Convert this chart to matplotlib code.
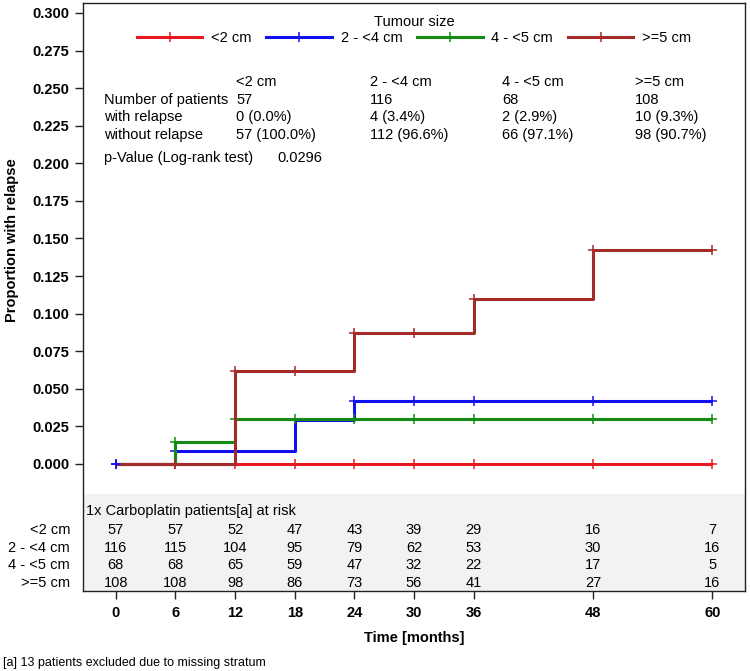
import numpy as np
import matplotlib
matplotlib.use("Agg")
import matplotlib.pyplot as plt
from matplotlib.lines import Line2D
from matplotlib.patches import Rectangle

plt.rcParams['font.family'] = ['Liberation Sans', 'DejaVu Sans']

# ---------------- data ----------------
groups = ["<2 cm", "2 - <4 cm", "4 - <5 cm", ">=5 cm"]
colors = ["#E8191E", "#1010F0", "#158A15", "#A52A2A"]

grid = [0, 6, 12, 18, 24, 30, 36, 48, 60]
prop_lt2 = [0, 0, 0, 0, 0, 0, 0, 0, 0]
prop_2to4 = [0, 0.0088, 0.0088, 0.0293, 0.0421, 0.0421, 0.0421, 0.0421, 0.0421]
prop_4to5 = [0, 0.0149, 0.0298, 0.0298, 0.0298, 0.0298, 0.0298, 0.0298, 0.0298]
prop_ge5 = [0, 0, 0.0616, 0.0616, 0.0872, 0.0872, 0.1094, 0.1423, 0.1423]
props = [prop_lt2, prop_2to4, prop_4to5, prop_ge5]

cens_lt2 = [6, 12, 18, 24, 30, 36, 48, 60]
cens_2to4 = [0, 6, 12, 24, 30, 36, 48, 60]
cens_4to5 = [6, 12, 18, 24, 30, 36, 48, 60]
cens_ge5 = [6, 12, 18, 24, 30, 36, 48, 60]
censors = [cens_lt2, cens_2to4, cens_4to5, cens_ge5]

n_patients = ["57", "116", "68", "108"]
with_relapse = ["0 (0.0%)", "4 (3.4%)", "2 (2.9%)", "10 (9.3%)"]
without_relapse = ["57 (100.0%)", "112 (96.6%)", "66 (97.1%)", "98 (90.7%)"]
p_value = "0.0296"

risk_times = [0, 6, 12, 18, 24, 30, 36, 48, 60]
risk_lt2 = [57, 57, 52, 47, 43, 39, 29, 16, 7]
risk_2to4 = [116, 115, 104, 95, 79, 62, 53, 30, 16]
risk_4to5 = [68, 68, 65, 59, 47, 32, 22, 17, 5]
risk_ge5 = [108, 108, 98, 86, 73, 56, 41, 27, 16]
risks = [risk_lt2, risk_2to4, risk_4to5, risk_ge5]

yticks = [0.000, 0.025, 0.050, 0.075, 0.100, 0.125, 0.150, 0.175, 0.200, 0.225, 0.250, 0.275, 0.300]
xticks = [0, 6, 12, 18, 24, 30, 36, 48, 60]

# ---------------- figure ----------------
W, H = 750, 671
fig = plt.figure(figsize=(W / 100, H / 100), dpi=100)
L, R, B, T = 83, 745, 591, 3
ax = fig.add_axes([L / W, 1 - B / H, (R - L) / W, (B - T) / H])

YMIN, YMAX = -0.0845, 0.3066
ax.set_xlim(-3.3, 63.3)
ax.set_ylim(YMIN, YMAX)

# at-risk shaded band
ax.add_patch(Rectangle((0, 0), 1, (-0.02 - YMIN) / (YMAX - YMIN), transform=ax.transAxes,
                       facecolor="#F2F2F2", edgecolor="none", zorder=0))

MS, MEW, LW = 7.5, 1.1, 2.2
for g, (p, c, cs) in enumerate(zip(props, colors, censors)):
    ax.plot(grid, p, drawstyle="steps-post", color=c, lw=LW, zorder=2 + g, solid_capstyle="butt")
    cy = [p[grid.index(t)] for t in cs]
    ax.plot(cs, cy, ls="none", marker="+", ms=MS, mew=MEW, color=c, zorder=2 + g)
# blue censor at 0 on top
ax.plot([0], [prop_2to4[0]], ls="none", marker="+", ms=MS, mew=MEW, color=colors[1], zorder=10)

# axes styling
for s in ax.spines.values():
    s.set_linewidth(1.0)
    s.set_color("#222222")
ax.set_yticks(yticks)
ax.set_yticklabels([f"{v:.3f}" for v in yticks], fontweight="bold", fontsize=10.5)
ax.set_xticks(xticks)
ax.set_xticklabels([str(v) for v in xticks], fontweight="bold", fontsize=10.5)
ax.tick_params(axis="both", direction="out", length=6, width=1, color="#222222", pad=4)
ax.tick_params(axis="x", pad=5)

fig.text(12 / W, 1 - 240 / H, "Proportion with relapse", rotation=90, fontweight="bold",
         fontsize=10.5, ha="center", va="center")
fig.text(414 / W, 1 - 638 / H, "Time [months]", fontweight="bold", fontsize=10.5,
         ha="center", va="center")
fig.text(3 / W, 1 - 663 / H, "[a] 13 patients excluded due to missing stratum", fontsize=9.0,
         ha="left", va="center")

# legend
handles = [Line2D([0, 0.5, 1], [0, 0, 0], color=c, lw=LW, marker="+", ms=MS, mew=MEW,
                  markevery=[1]) for c in colors]
leg = ax.legend(handles, groups, title="Tumour size", loc="upper center",
                bbox_to_anchor=(0.5, 1.0), ncol=4, frameon=False, fontsize=10.5,
                title_fontsize=10.5, handlelength=4.5, handletextpad=0.6,
                columnspacing=1.0, borderaxespad=0.4, labelspacing=0.2)
leg._legend_box.sep = 2

# statistics table
fs = 10.5
col_x = [236, 370, 502, 635]
for x, gname, n, w, wo in zip(col_x, groups, n_patients, with_relapse, without_relapse):
    fig.text(x / W, 1 - 82 / H, gname, fontsize=fs, va="center")
    fig.text(x / W, 1 - 100 / H, n, fontsize=fs, va="center")
    fig.text(x / W, 1 - 117 / H, w, fontsize=fs, va="center")
    fig.text(x / W, 1 - 135 / H, wo, fontsize=fs, va="center")
fig.text(104 / W, 1 - 100 / H, "Number of patients", fontsize=fs, va="center")
fig.text(104 / W, 1 - 117 / H, "with relapse", fontsize=fs, va="center")
fig.text(104 / W, 1 - 135 / H, "without relapse", fontsize=fs, va="center")
fig.text(104 / W, 1 - 158 / H, "p-Value (Log-rank test)", fontsize=fs, va="center")
fig.text(277 / W, 1 - 158 / H, p_value, fontsize=fs, va="center")

# at-risk table
fig.text(86 / W, 1 - 511 / H, "1x Carboplatin patients[a] at risk", fontsize=fs, va="center")
row_y = [530, 547.7, 565.3, 583]
for gname, r, yy in zip(groups, risks, row_y):
    fig.text(70 / W, 1 - yy / H, gname, fontsize=fs, ha="right", va="center")
    ytr = ax.transAxes.inverted().transform((0, H - yy))[1]
    for t, v in zip(risk_times, r):
        ax.text(t, ytr, str(v), transform=ax.get_xaxis_transform(), fontsize=fs,
                ha="center", va="center")

fig.savefig("out.png", dpi=100)
